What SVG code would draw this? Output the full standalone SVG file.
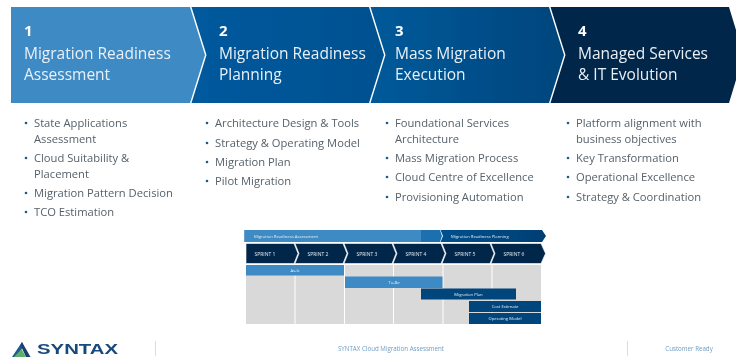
<svg xmlns="http://www.w3.org/2000/svg" width="736" height="358" viewBox="0 0 736 358">
<defs>
<linearGradient id="g2" x1="0" x2="1" y1="0" y2="0"><stop offset="0" stop-color="#005a9e"/><stop offset="1" stop-color="#00508f"/></linearGradient>
<linearGradient id="g3" x1="0" x2="1" y1="0" y2="0"><stop offset="0" stop-color="#005a9a"/><stop offset="1" stop-color="#00457c"/></linearGradient>
<linearGradient id="gp" x1="0" x2="1" y1="0" y2="0"><stop offset="0" stop-color="#00508f"/><stop offset="1" stop-color="#003f73"/></linearGradient>
<filter id="a" x="0" y="0" width="100%" height="100%"><feGaussianBlur stdDeviation="0.35"/></filter>
</defs>
<style>
text{font-family:"Open Sans","Noto Sans","Liberation Sans",sans-serif}
.h{font-size:15.5px;fill:#e9f0f6}
.n{font-size:15px;font-weight:700;fill:#fff}
.l{font-size:11.2px;fill:#56616b}
.bu{fill:#1f5a8c}
.s{font-size:5px;fill:#dfe8f0;text-anchor:middle}
.t{font-size:4.2px;fill:#e4edf4;text-anchor:middle}
.f{font-size:6.2px;fill:#6f9cc0;text-anchor:middle}
.sep{stroke:#d5dee6;stroke-width:1}
.sp{fill:#03264a;stroke:#fff;stroke-width:.6}
.c{fill:#d9d9d9}
</style>
<rect width="736" height="358" fill="#fff"/>
<g filter="url(#a)">
<g id="step-1"><polygon points="11,7 190,7 205,55 190,103 11,103" fill="#3e8ac4"/>
<text class="n" x="24" y="36">1</text><text class="h" x="24" y="59">Migration Readiness</text><text class="h" x="24" y="80">Assessment</text></g>
<g id="step-2"><polygon points="191.500,7 369,7 384,55 369,103 191.500,103 206.500,55" fill="url(#g2)"/>
<text class="n" x="219" y="36">2</text><text class="h" x="219" y="59">Migration Readiness</text><text class="h" x="219" y="80">Planning</text></g>
<g id="step-3"><polygon points="370.500,7 549,7 564,55 549,103 370.500,103 385.500,55" fill="url(#g3)"/>
<text class="n" x="395" y="36">3</text><text class="h" x="395" y="59">Mass Migration</text><text class="h" x="395" y="80">Execution</text></g>
<g id="step-4"><polygon points="550.500,7 729,7 736,30 736,80 729,103 550.500,103 565.500,55" fill="#03264a"/>
<text class="n" x="578" y="36">4</text><text class="h" x="578" y="59">Managed Services</text><text class="h" x="578" y="80">&amp; IT Evolution</text></g>
<g id="list-1">
<circle class="bu" cx="26" cy="123" r="1.300"/><text class="l" x="34" y="127">State Applications</text><text class="l" x="34" y="143">Assessment</text>
<circle class="bu" cx="26" cy="158" r="1.300"/><text class="l" x="34" y="162">Cloud Suitability &amp;</text><text class="l" x="34" y="178">Placement</text>
<circle class="bu" cx="26" cy="193" r="1.300"/><text class="l" x="34" y="197">Migration Pattern Decision</text>
<circle class="bu" cx="26" cy="212" r="1.300"/><text class="l" x="34" y="216">TCO Estimation</text>
</g>
<g id="list-2">
<circle class="bu" cx="207" cy="123" r="1.300"/><text class="l" x="215" y="127">Architecture Design &amp; Tools</text>
<circle class="bu" cx="207" cy="143" r="1.300"/><text class="l" x="215" y="147">Strategy &amp; Operating Model</text>
<circle class="bu" cx="207" cy="162" r="1.300"/><text class="l" x="215" y="166">Migration Plan</text>
<circle class="bu" cx="207" cy="181" r="1.300"/><text class="l" x="215" y="185">Pilot Migration</text>
</g>
<g id="list-3">
<circle class="bu" cx="387" cy="123" r="1.300"/><text class="l" x="395" y="127">Foundational Services</text><text class="l" x="395" y="143">Architecture</text>
<circle class="bu" cx="387" cy="158" r="1.300"/><text class="l" x="395" y="162">Mass Migration Process</text>
<circle class="bu" cx="387" cy="177" r="1.300"/><text class="l" x="395" y="181">Cloud Centre of Excellence</text>
<circle class="bu" cx="387" cy="197" r="1.300"/><text class="l" x="395" y="201">Provisioning Automation</text>
</g>
<g id="list-4">
<circle class="bu" cx="568" cy="123" r="1.300"/><text class="l" x="576" y="127">Platform alignment with</text><text class="l" x="576" y="143">business objectives</text>
<circle class="bu" cx="568" cy="158" r="1.300"/><text class="l" x="576" y="162">Key Transformation</text>
<circle class="bu" cx="568" cy="177" r="1.300"/><text class="l" x="576" y="181">Operational Excellence</text>
<circle class="bu" cx="568" cy="197" r="1.300"/><text class="l" x="576" y="201">Strategy &amp; Coordination</text>
</g>
<g id="gantt">
<g id="gantt-grid">
<rect class="c" x="246" y="265" width="48.500" height="59"/><rect class="c" x="295.500" y="265" width="48.500" height="59"/><rect class="c" x="345" y="265" width="48" height="59"/><rect class="c" x="394" y="265" width="48.500" height="59"/><rect class="c" x="443.500" y="265" width="48" height="59"/><rect class="c" x="492.500" y="265" width="48.500" height="59"/>
</g>
<g id="phase-a"><polygon points="244.500,230 440,230 442,236 440,242 244.500,242" fill="#1f70b0"/><rect x="244.500" y="230" width="176.500" height="12" fill="#3e8ac4"/>
<text class="t" x="254" y="237.500" style="text-anchor:start">Migration Readiness Assessment</text></g>
<g id="phase-b"><polygon points="440.500,230 542,230 546,236 542,242 440.500,242 443,236" fill="url(#gp)"/>
<text class="t" x="451" y="237.500" style="text-anchor:start">Migration Readiness Planning</text></g>
<g id="sprint-1"><polygon class="sp" points="246,243.500 294,243.500 298,253.500 294,263.500 246,263.500"/><text class="s" x="265" y="255.500">SPRINT 1</text></g>
<g id="sprint-2"><polygon class="sp" points="295,243.500 343,243.500 347,253.500 343,263.500 295,263.500 299,253.500"/><text class="s" x="318" y="255.500">SPRINT 2</text></g>
<g id="sprint-3"><polygon class="sp" points="344,243.500 392,243.500 396,253.500 392,263.500 344,263.500 348,253.500"/><text class="s" x="367" y="255.500">SPRINT 3</text></g>
<g id="sprint-4"><polygon class="sp" points="393,243.500 441,243.500 445,253.500 441,263.500 393,263.500 397,253.500"/><text class="s" x="416" y="255.500">SPRINT 4</text></g>
<g id="sprint-5"><polygon class="sp" points="442,243.500 490,243.500 494,253.500 490,263.500 442,263.500 446,253.500"/><text class="s" x="465" y="255.500">SPRINT 5</text></g>
<g id="sprint-6"><polygon class="sp" points="491,243.500 541,243.500 545.500,253.500 541,263.500 491,263.500 495,253.500"/><text class="s" x="514" y="255.500">SPRINT 6</text></g>
<g id="bar-asis"><rect x="246" y="265" width="98" height="10.500" fill="#3e8ac4"/><text class="t" x="295" y="271.800">As-Is</text></g>
<g id="bar-tobe"><rect x="345" y="276.500" width="97.500" height="11.500" fill="#3e8ac4"/><text class="t" x="394" y="283.800">To-Be</text></g>
<g id="bar-plan"><rect x="421" y="288.500" width="95" height="11" fill="#00457c"/><text class="t" x="468.500" y="295.800">Migration Plan</text></g>
<g id="bar-cost"><rect x="469" y="301" width="72" height="11" fill="#00457c"/><text class="t" x="505" y="308.200">Cost Estimate</text></g>
<g id="bar-model"><rect x="469" y="313" width="72" height="11" fill="#00457c"/><text class="t" x="505" y="320.200">Operating Model</text></g>
</g>
<g id="footer">
<g id="logo"><polygon points="22,342 12,357 17,357 23.500,346" fill="#1f5a94"/><polygon points="22,342 30.500,357 26,357 20.500,345" fill="#15406e"/><polygon points="21.500,349 26,357 14,357" fill="#5fae6a"/>
<text x="37" y="354" textLength="81" lengthAdjust="spacingAndGlyphs" style="font-family:'Liberation Sans',sans-serif;font-size:14px;font-weight:700;fill:#17497e">SYNTAX</text></g>
<line class="sep" x1="155.500" y1="341" x2="155.500" y2="356"/>
<text class="f" x="391" y="350.500">SYNTAX Cloud Migration Assessment</text>
<line class="sep" x1="627.500" y1="341" x2="627.500" y2="356"/>
<text class="f" x="689" y="350.500">Customer Ready</text>
</g>
</g>
</svg>
